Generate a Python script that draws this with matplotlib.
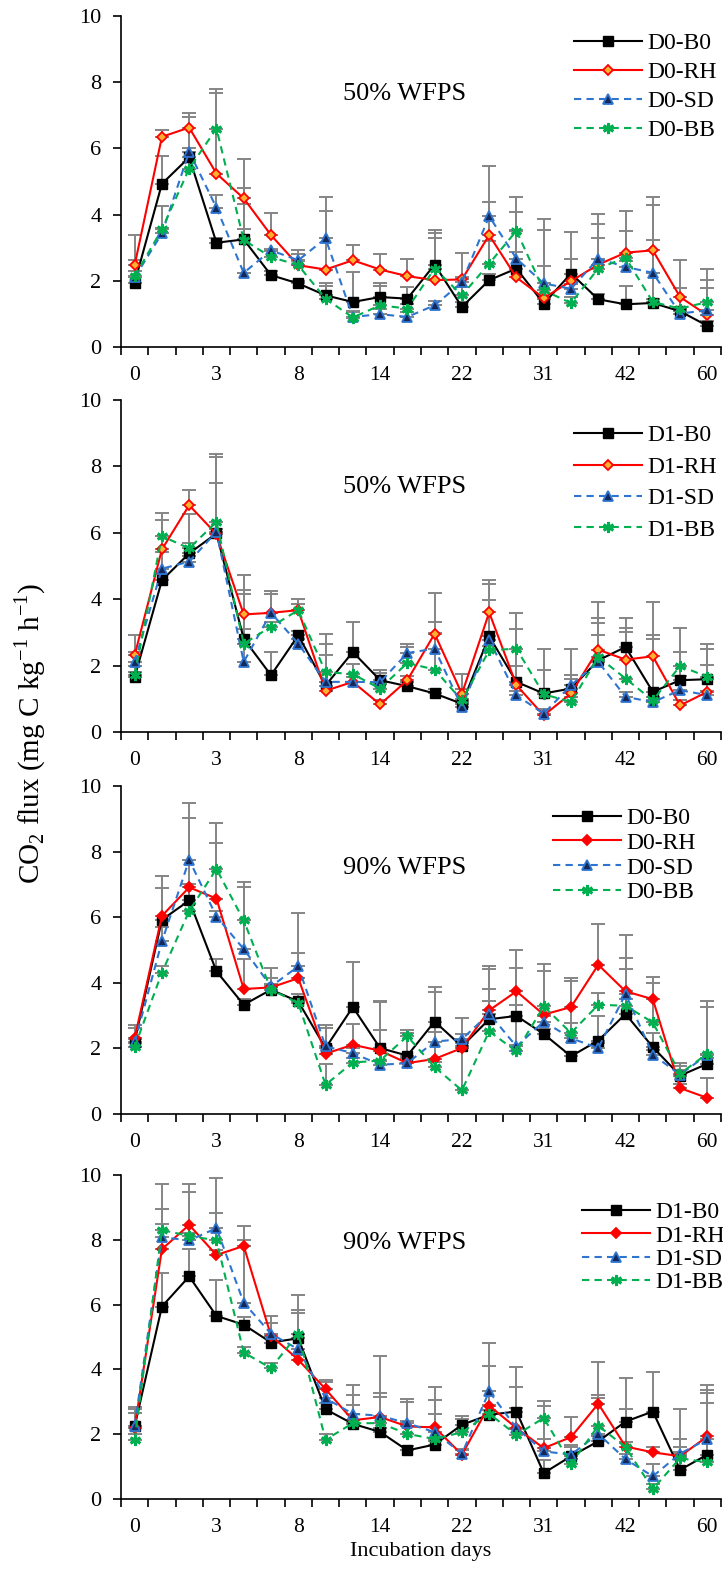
import numpy as np
import matplotlib
matplotlib.use("Agg")
import matplotlib.pyplot as plt

plt.rcParams['font.family'] = ['Liberation Serif', 'DejaVu Serif']
plt.rcParams['mathtext.fontset'] = 'custom'
plt.rcParams['mathtext.rm'] = 'Liberation Serif'

tick_labels = ["0", "3", "8", "14", "22", "31", "42", "60"]
n_points = 22

# ---------- Panel 1: 50% WFPS, D0 ----------
p1_b0 = [1.94, 4.93, 5.73, 3.15, 3.25, 2.17, 1.92, 1.56, 1.36, 1.51, 1.46, 2.49, 1.21, 2.02, 2.37, 1.31, 2.22, 1.44, 1.29, 1.33, 1.08, 0.64]
p1_rh = [2.47, 6.35, 6.63, 5.24, 4.49, 3.38, 2.47, 2.34, 2.62, 2.34, 2.14, 2.02, 2.04, 3.38, 2.10, 1.48, 1.99, 2.49, 2.85, 2.92, 1.51, 0.96]
p1_sd = [2.10, 3.43, 5.90, 4.21, 2.24, 2.92, 2.62, 3.28, 0.91, 0.99, 0.91, 1.26, 1.95, 3.95, 2.67, 1.92, 1.76, 2.67, 2.42, 2.24, 1.01, 1.11]
p1_bb = [2.14, 3.55, 5.39, 6.60, 3.23, 2.72, 2.47, 1.46, 0.89, 1.26, 1.16, 2.37, 1.56, 2.52, 3.51, 1.71, 1.33, 2.37, 2.70, 1.36, 1.16, 1.36]
p1_b0_top = [2.10, 5.77, 6.00, 3.30, 4.79, 2.30, 2.00, 1.92, 2.27, 1.92, 1.81, 3.53, 1.35, 2.20, 3.53, 1.45, 3.48, 1.60, 1.84, 1.45, 1.20, 0.80]
p1_rh_top = [3.38, 6.57, 7.06, 7.66, 5.67, 4.05, 2.80, 4.11, 3.07, 2.82, 2.67, 3.28, 2.85, 4.39, 2.87, 2.44, 2.67, 3.28, 4.11, 4.54, 2.64, 1.79]
p1_sd_top = [2.30, 3.60, 6.96, 4.59, 3.58, 2.97, 2.94, 4.52, 1.10, 1.15, 1.05, 1.40, 2.10, 5.47, 4.08, 3.88, 1.90, 4.01, 2.60, 4.28, 1.15, 2.02]
p1_bb_top = [2.62, 4.25, 5.60, 7.78, 4.33, 2.90, 2.60, 1.84, 1.05, 1.84, 1.30, 3.45, 1.80, 3.20, 4.54, 3.53, 1.50, 3.73, 3.51, 3.23, 1.79, 2.37]

# ---------- Panel 2: 50% WFPS, D1 ----------
p2_b0 = [1.65, 4.57, 5.38, 5.98, 2.81, 1.71, 2.91, 1.40, 2.41, 1.56, 1.38, 1.16, 0.85, 2.88, 1.51, 1.16, 1.31, 2.16, 2.56, 1.21, 1.56, 1.59]
p2_rh = [2.31, 5.50, 6.83, 5.96, 3.54, 3.59, 3.67, 1.24, 1.51, 0.83, 1.56, 2.96, 1.15, 3.60, 1.41, 0.50, 1.16, 2.48, 2.18, 2.28, 0.80, 1.21]
p2_sd = [2.11, 4.92, 5.13, 6.03, 2.11, 3.59, 2.66, 1.51, 1.51, 1.50, 2.38, 2.51, 0.75, 2.78, 1.11, 0.55, 1.41, 2.11, 1.06, 0.90, 1.26, 1.11]
p2_bb = [1.71, 5.90, 5.53, 6.33, 2.66, 3.17, 3.67, 1.81, 1.74, 1.31, 2.08, 1.88, 0.95, 2.46, 2.51, 1.14, 0.90, 2.26, 1.61, 0.95, 1.99, 1.66]
p2_b0_top = [1.80, 4.75, 5.68, 6.10, 4.17, 2.41, 3.05, 2.31, 3.32, 1.88, 1.50, 1.30, 1.00, 4.47, 3.09, 2.51, 1.71, 2.91, 3.42, 2.91, 1.70, 2.51]
p2_rh_top = [2.91, 6.38, 7.29, 7.49, 4.72, 4.15, 4.02, 1.40, 1.65, 0.95, 1.70, 4.19, 1.76, 4.59, 1.98, 0.65, 1.60, 3.92, 3.12, 3.92, 0.95, 2.01]
p2_sd_top = [2.41, 5.43, 5.30, 8.29, 3.10, 4.25, 2.80, 2.66, 1.65, 1.78, 2.66, 3.32, 0.90, 3.97, 1.25, 0.70, 2.51, 3.29, 1.20, 1.05, 2.41, 1.25]
p2_bb_top = [2.00, 6.60, 6.58, 8.37, 4.27, 3.30, 3.85, 2.96, 2.06, 1.45, 2.56, 2.98, 1.31, 2.60, 3.59, 1.86, 1.05, 3.42, 3.02, 2.81, 3.12, 2.64]

# ---------- Panel 3: 90% WFPS, D0 ----------
p3_b0 = [2.21, 5.92, 6.51, 4.35, 3.33, 3.79, 3.43, 2.01, 3.26, 2.01, 1.78, 2.82, 2.06, 2.89, 2.99, 2.44, 1.76, 2.24, 3.05, 2.04, 1.17, 1.53]
p3_rh = [2.31, 6.04, 6.91, 6.57, 3.81, 3.86, 4.14, 1.84, 2.11, 1.93, 1.55, 1.68, 2.01, 3.16, 3.74, 3.03, 3.26, 4.55, 3.74, 3.50, 0.79, 0.49]
p3_sd = [2.18, 5.26, 7.75, 6.02, 5.03, 3.89, 4.50, 2.06, 1.86, 1.50, 1.55, 2.21, 2.28, 3.06, 2.06, 2.82, 2.31, 2.01, 3.66, 1.81, 1.20, 1.81]
p3_bb = [2.04, 4.31, 6.19, 7.47, 5.90, 3.79, 3.38, 0.89, 1.57, 1.63, 2.37, 1.43, 0.72, 2.52, 1.91, 3.28, 2.47, 3.33, 3.30, 2.79, 1.23, 1.84]
p3_b0_top = [2.62, 6.88, 7.00, 4.72, 3.50, 3.95, 3.66, 2.62, 4.62, 3.45, 2.47, 3.87, 2.20, 3.81, 4.45, 2.60, 1.90, 2.99, 4.42, 2.47, 1.45, 1.70]
p3_rh_top = [2.72, 7.26, 9.02, 8.25, 4.72, 4.14, 4.90, 2.00, 2.75, 3.40, 1.70, 2.49, 2.15, 4.52, 5.00, 4.37, 4.16, 5.80, 5.46, 4.17, 0.90, 1.10]
p3_sd_top = [2.30, 5.70, 9.49, 6.20, 6.93, 4.45, 6.14, 2.72, 2.00, 1.65, 1.70, 3.71, 2.45, 4.42, 3.33, 3.00, 2.77, 2.15, 4.75, 1.95, 1.35, 3.46]
p3_bb_top = [2.15, 4.50, 6.40, 8.88, 7.07, 3.95, 3.50, 1.52, 1.70, 2.55, 2.55, 1.60, 2.92, 3.43, 2.10, 4.58, 4.06, 3.69, 3.50, 3.99, 1.57, 3.26]

# ---------- Panel 4: 90% WFPS, D1 ----------
p4_b0 = [2.24, 5.94, 6.87, 5.65, 5.38, 4.83, 4.96, 2.77, 2.32, 2.07, 1.50, 1.68, 2.29, 2.60, 2.70, 0.80, 1.32, 1.78, 2.39, 2.70, 0.90, 1.37]
p4_rh = [2.20, 7.71, 8.46, 7.53, 7.81, 5.04, 4.30, 3.39, 2.43, 2.53, 2.24, 2.21, 1.37, 2.88, 2.19, 1.57, 1.91, 2.94, 1.62, 1.44, 1.32, 1.93]
p4_sd = [2.26, 8.08, 7.98, 8.36, 6.06, 5.10, 4.62, 3.11, 2.63, 2.57, 2.34, 2.06, 1.40, 3.32, 2.19, 1.47, 1.37, 2.01, 1.23, 0.70, 1.40, 1.85]
p4_bb = [1.83, 8.30, 8.12, 7.98, 4.52, 4.04, 5.10, 1.83, 2.34, 2.34, 2.01, 1.85, 2.06, 2.63, 1.98, 2.50, 1.09, 2.26, 1.60, 0.31, 1.26, 1.13]
p4_b0_top = [2.78, 6.97, 7.71, 6.76, 5.61, 5.10, 5.82, 2.95, 2.45, 2.20, 1.65, 1.80, 2.55, 2.75, 4.07, 1.19, 1.60, 1.95, 3.73, 3.91, 2.77, 3.27]
p4_rh_top = [2.65, 8.49, 9.72, 7.70, 8.43, 5.43, 4.45, 3.66, 3.22, 3.27, 2.98, 3.47, 1.50, 4.11, 2.81, 2.86, 2.53, 4.24, 2.77, 1.60, 1.45, 3.53]
p4_sd_top = [2.84, 8.94, 8.20, 9.90, 7.98, 5.65, 5.73, 3.60, 3.53, 4.42, 3.08, 3.06, 1.55, 4.83, 3.47, 1.85, 1.68, 3.11, 1.40, 1.09, 1.85, 3.37]
p4_bb_top = [2.00, 9.72, 9.49, 8.84, 4.70, 4.20, 6.30, 2.00, 2.91, 3.14, 2.40, 2.63, 2.48, 2.91, 2.15, 3.04, 1.25, 3.22, 1.75, 0.45, 1.62, 2.96]

panel_titles = ["50% WFPS", "50% WFPS", "90% WFPS", "90% WFPS"]
panel_prefix = ["D0", "D1", "D0", "D1"]
treatments = ["B0", "RH", "SD", "BB"]

panels = [
    ([p1_b0, p1_rh, p1_sd, p1_bb], [p1_b0_top, p1_rh_top, p1_sd_top, p1_bb_top]),
    ([p2_b0, p2_rh, p2_sd, p2_bb], [p2_b0_top, p2_rh_top, p2_sd_top, p2_bb_top]),
    ([p3_b0, p3_rh, p3_sd, p3_bb], [p3_b0_top, p3_rh_top, p3_sd_top, p3_bb_top]),
    ([p4_b0, p4_rh, p4_sd, p4_bb], [p4_b0_top, p4_rh_top, p4_sd_top, p4_bb_top]),
]

W, H = 723, 1570
fig = plt.figure(figsize=(W / 100, H / 100), dpi=100)

# axes boxes in pixels: (top_y, bottom_y)
boxes = [(16, 347), (400, 732), (786, 1114), (1175, 1499)]
left_px, right_px = 121, 721
title_pos = [0.765, 0.738, 0.75, 0.79]
legend_anchor = [(0.755, 0.95), (0.755, 0.925), (0.72, 0.935), (0.768, 0.918)]
legend_spacing = [0.32, 0.42, 0.14, 0.08]
rh_face = ["#FFB030", "#FFB030", "#FF0000", "#FF0000"]

blue = "#2E75D0"
green = "#00B050"

for i, ((vals, tops), (ytop, ybot)) in enumerate(zip(panels, boxes)):
    ax = fig.add_axes([left_px / W, 1 - ybot / H, (right_px - left_px) / W, (ybot - ytop) / H])
    x = np.arange(n_points)
    styles = [
        dict(color="black", ls="-", marker="s", ms=6.5, mfc="black", mec="black", mew=1),
        dict(color="#FF0000", ls="-", marker="D", ms=5.5, mfc=rh_face[i], mec="#FF0000", mew=1.3),
        dict(color=blue, ls=(0, (3.5, 2.5)), marker="^", ms=6.5, mfc="#14285A", mec=blue, mew=1.3),
        dict(color=green, ls=(0, (3.5, 2.5)), marker=(6, 2, 0), ms=8, mfc=green, mec=green, mew=2),
    ]
    for k, (v, t, st) in enumerate(zip(vals, tops, styles)):
        v = np.array(v)
        t = np.array(t)
        up = np.clip(t - v, 0, None)
        ax.errorbar(x, v, yerr=[np.zeros_like(up), up], fmt="none", ecolor="#858585",
                    elinewidth=1.4, capsize=5, capthick=1.4, zorder=1 + k * 0.01)
        ax.plot(x, v, lw=1.5, label=f"{panel_prefix[i]}-{treatments[k]}", zorder=3 + k, **st)

    ax.set_xlim(-0.5, n_points - 0.5)
    ax.set_ylim(0, 10)
    ax.set_yticks(np.arange(0, 11, 2))
    ax.set_xticks(np.arange(-0.5, n_points, 1))
    ax.set_xticklabels([])
    ax.set_xticks(np.arange(0, n_points, 3), minor=True)
    ax.set_xticklabels(tick_labels, minor=True)
    ax.tick_params(axis="x", which="major", direction="out", length=6, width=1.2)
    ax.tick_params(axis="x", which="minor", length=0, pad=14, labelsize=15.5)
    ax.tick_params(axis="y", direction="out", length=6, width=1.2, labelsize=16, pad=8)
    for s in ["top", "right"]:
        ax.spines[s].set_visible(False)
    for s in ["left", "bottom"]:
        ax.spines[s].set_linewidth(1.2)
    ax.text(0.473, title_pos[i], panel_titles[i], transform=ax.transAxes,
            ha="center", va="center", fontsize=19)
    leg = ax.legend(loc="upper left", bbox_to_anchor=legend_anchor[i], frameon=False,
                    fontsize=17, handlelength=2.9, handletextpad=0.2, borderpad=0,
                    borderaxespad=0, labelspacing=legend_spacing[i])

fig.text(0.0415, 0.533, r"CO$_2$ flux (mg C kg$^{\mathregular{-1}}$ h$^{\mathregular{-1}}$)",
         rotation=90, ha="center", va="center", fontsize=21)
fig.text(0.582, 0.0115, "Incubation days", ha="center", va="center", fontsize=16)

fig.savefig("out.png", dpi=100)
